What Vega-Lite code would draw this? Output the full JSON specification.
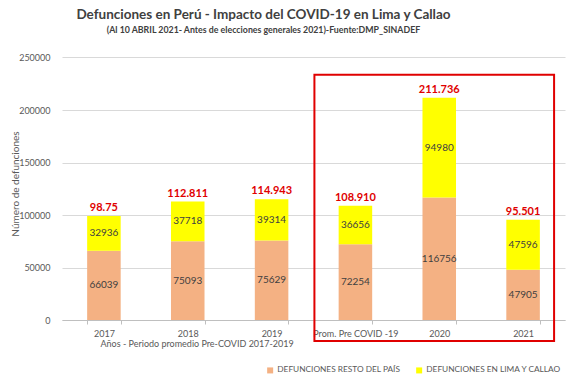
{
  "$schema": "https://vega.github.io/schema/vega-lite/v6.json",
  "width": 503,
  "height": 273,
  "padding": {"left": 62, "top": 47, "right": 1, "bottom": 64},
  "autosize": {"type": "none"},
  "background": "white",
  "config": {
    "font": "Lato",
    "view": {"stroke": null}
  },
  "title": {
    "text": "Defunciones en Perú -  Impacto del COVID-19 en Lima y Callao",
    "subtitle": "(Al 10 ABRIL 2021- Antes de elecciones generales 2021)-Fuente:DMP_SINADEF",
    "fontSize": 13.5,
    "fontWeight": "bold",
    "color": "#404040",
    "subtitleFontSize": 8.8,
    "subtitleFontWeight": "bold",
    "subtitleColor": "#404040",
    "subtitlePadding": 5,
    "anchor": "middle",
    "dx": -50,
    "offset": 12
  },
  "datasets": {
    "barras": [
      {"cat": "2017", "serie": "DEFUNCIONES RESTO DEL PAÍS", "valor": 66039},
      {"cat": "2017", "serie": "DEFUNCIONES EN LIMA Y CALLAO", "valor": 32936},
      {"cat": "2018", "serie": "DEFUNCIONES RESTO DEL PAÍS", "valor": 75093},
      {"cat": "2018", "serie": "DEFUNCIONES EN LIMA Y CALLAO", "valor": 37718},
      {"cat": "2019", "serie": "DEFUNCIONES RESTO DEL PAÍS", "valor": 75629},
      {"cat": "2019", "serie": "DEFUNCIONES EN LIMA Y CALLAO", "valor": 39314},
      {"cat": "Prom. Pre COVID -19", "serie": "DEFUNCIONES RESTO DEL PAÍS", "valor": 72254},
      {"cat": "Prom. Pre COVID -19", "serie": "DEFUNCIONES EN LIMA Y CALLAO", "valor": 36656},
      {"cat": "2020", "serie": "DEFUNCIONES RESTO DEL PAÍS", "valor": 116756},
      {"cat": "2020", "serie": "DEFUNCIONES EN LIMA Y CALLAO", "valor": 94980},
      {"cat": "2021", "serie": "DEFUNCIONES RESTO DEL PAÍS", "valor": 47905},
      {"cat": "2021", "serie": "DEFUNCIONES EN LIMA Y CALLAO", "valor": 47596}
    ],
    "totales": [
      {"cat": "2017", "total": 98975, "etiqueta": "98.75"},
      {"cat": "2018", "total": 112811, "etiqueta": "112.811"},
      {"cat": "2019", "total": 114943, "etiqueta": "114.943"},
      {"cat": "Prom. Pre COVID -19", "total": 108910, "etiqueta": "108.910"},
      {"cat": "2020", "total": 211736, "etiqueta": "211.736"},
      {"cat": "2021", "total": 95501, "etiqueta": "95.501"}
    ]
  },
  "encoding": {
    "x": {
      "field": "cat",
      "type": "nominal",
      "sort": null,
      "scale": {"domain": ["2017", "2018", "2019", "Prom. Pre COVID -19", "2020", "2021"], "paddingInner": 0.6, "paddingOuter": 0.3},
      "axis": {
        "title": "Años - Periodo promedio Pre-COVID 2017-2019",
        "titleFontSize": 9,
        "titleFontWeight": "normal",
        "titleColor": "#595959",
        "titleAnchor": "start",
        "titleX": 38,
        "titlePadding": 1,
        "labelAngle": 0,
        "labelFontSize": 9,
        "labelColor": "#595959",
        "labelPadding": 5,
        "domainColor": "#bfbfbf",
        "tickColor": "#bfbfbf",
        "tickBand": "extent",
        "tickSize": 4
      }
    }
  },
  "layer": [
    {
      "data": {"name": "barras"},
      "mark": {"type": "bar"},
      "encoding": {
        "y": {
          "field": "valor",
          "type": "quantitative",
          "stack": "zero",
          "scale": {"domain": [0, 250000]},
          "axis": {
            "title": "Número de defunciones",
            "titleFontSize": 10,
            "titleFontWeight": "normal",
            "titleColor": "#595959",
            "titlePadding": -2,
            "values": [0, 50000, 100000, 150000, 200000, 250000],
            "format": "d",
            "labelFontSize": 9,
            "labelColor": "#595959",
            "labelPadding": 12,
            "domain": false,
            "ticks": false,
            "gridColor": "#d9d9d9"
          }
        },
        "color": {
          "field": "serie",
          "type": "nominal",
          "scale": {"domain": ["DEFUNCIONES RESTO DEL PAÍS", "DEFUNCIONES EN LIMA Y CALLAO"], "range": ["#f4b183", "#ffff00"]},
          "legend": {
            "title": null,
            "orient": "none",
            "legendX": 204,
            "legendY": 319,
            "direction": "horizontal",
            "columns": 2,
            "columnPadding": 14,
            "symbolType": "square",
            "symbolSize": 36,
            "symbolStrokeWidth": 0,
            "labelFontSize": 8.3,
            "labelColor": "#595959",
            "labelOffset": 3
          }
        },
        "order": {"field": "serie", "sort": "descending"}
      }
    },
    {
      "data": {"name": "barras"},
      "mark": {"type": "text", "fontSize": 10, "color": "#404040"},
      "encoding": {
        "y": {"field": "valor", "type": "quantitative", "stack": "zero", "bandPosition": 0.5},
        "text": {"field": "valor", "type": "quantitative", "format": "d"},
        "detail": {"field": "serie"},
        "order": {"field": "serie", "sort": "descending"}
      }
    },
    {
      "data": {"name": "totales"},
      "mark": {"type": "text", "fontSize": 11, "fontWeight": "bold", "color": "#e00000", "dy": -8},
      "encoding": {
        "y": {"field": "total", "type": "quantitative"},
        "text": {"field": "etiqueta", "type": "nominal"}
      }
    },
    {
      "data": {"values": [{}]},
      "mark": {"type": "rect", "fill": null, "stroke": "#e00000", "strokeWidth": 2, "xOffset": -41, "x2Offset": 31},
      "encoding": {
        "x": {"datum": "Prom. Pre COVID -19"},
        "x2": {"datum": "2021"},
        "y": {"datum": 233500},
        "y2": {"datum": -20100}
      }
    }
  ]
}
